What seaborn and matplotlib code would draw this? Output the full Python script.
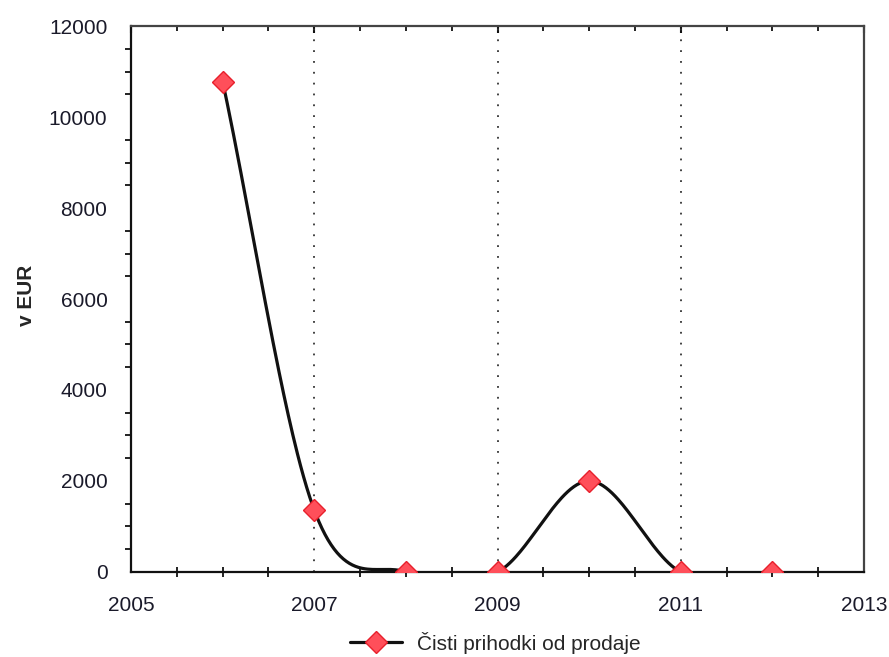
import numpy as np
import pandas as pd
import seaborn as sns
import matplotlib.pyplot as plt
from matplotlib.lines import Line2D
from matplotlib.ticker import MultipleLocator

# data
years = [2006, 2007, 2008, 2009, 2010, 2011, 2012]
prihodki = [10780, 1360, 0, 0, 2000, 0, 0]
series_name = "Čisti prihodki od prodaje"

line_col = "#111111"
mark_face = "#ff4f5a"
mark_edge = "#e8202c"


# Catmull-Rom style smoothing used by the original chart tool
def cardinal_curve(x, y, n=60):
    x = np.asarray(x, float)
    y = np.asarray(y, float)
    m = np.zeros_like(y)
    m[1:-1] = (y[2:] - y[:-2]) / (x[2:] - x[:-2])
    m[0] = (y[1] - y[0]) / (x[1] - x[0])
    m[-1] = (y[-1] - y[-2]) / (x[-1] - x[-2])
    xs, ys = [], []
    for i in range(len(x) - 1):
        h = x[i + 1] - x[i]
        t = np.linspace(0, 1, n, endpoint=(i == len(x) - 2))
        h00 = 2 * t**3 - 3 * t**2 + 1
        h10 = t**3 - 2 * t**2 + t
        h01 = -2 * t**3 + 3 * t**2
        h11 = t**3 - t**2
        xs.append(x[i] + t * h)
        ys.append(h00 * y[i] + h10 * h * m[i] + h01 * y[i + 1] + h11 * h * m[i + 1])
    return np.concatenate(xs), np.concatenate(ys)


cx, cy = cardinal_curve(years, prihodki)
curve = pd.DataFrame({"leto": cx, "vrednost": cy})
points = pd.DataFrame({"leto": years, "vrednost": prihodki})

sns.set_theme(style="white")
plt.rcParams["font.family"] = ["Liberation Sans", "DejaVu Sans"]

fig = plt.figure(figsize=(8.89, 6.57), dpi=100)
ax = fig.add_axes([0.1474, 0.1294, 0.8245, 0.831])

sns.lineplot(data=curve, x="leto", y="vrednost", ax=ax, color=line_col,
             linewidth=2.3, sort=False, legend=False)
ax.plot(points["leto"], points["vrednost"], linestyle="none", marker="D",
        markersize=11, markerfacecolor=mark_face, markeredgecolor=mark_edge,
        markeredgewidth=1, zorder=5)

ax.set_xlim(2005, 2013)
ax.set_ylim(0, 12000)
ax.xaxis.set_major_locator(MultipleLocator(2, offset=1))
ax.xaxis.set_minor_locator(MultipleLocator(0.5))
ax.yaxis.set_major_locator(MultipleLocator(2000))
ax.yaxis.set_minor_locator(MultipleLocator(500))

ax.xaxis.grid(True, which="major", linestyle=(0, (1, 5)), color="#333333", linewidth=1.3)
ax.yaxis.grid(False)

ax.tick_params(axis="x", which="major", direction="inout", length=10, width=1.5,
               color="#111111", labelsize=15, labelcolor="#1a1a2a", pad=12)
ax.tick_params(axis="x", which="minor", direction="inout", length=7, width=1.3,
               color="#111111", bottom=True)
ax.tick_params(axis="y", which="major", direction="out", length=8, width=1.5,
               color="#111111", labelsize=15, labelcolor="#1a1a2a", pad=9)
ax.tick_params(axis="y", which="minor", direction="out", length=4, width=1.3,
               color="#111111", left=True)

top = ax.secondary_xaxis("top")
top.xaxis.set_major_locator(MultipleLocator(2, offset=1))
top.xaxis.set_minor_locator(MultipleLocator(0.5))
top.tick_params(which="major", direction="in", length=5, width=1.5, color="#111111",
                labeltop=False)
top.tick_params(which="minor", direction="in", length=3.5, width=1.3, color="#111111")
top.spines["top"].set_visible(False)

for side in ["left", "bottom"]:
    ax.spines[side].set_color("#111111")
    ax.spines[side].set_linewidth(1.6)
for side in ["top", "right"]:
    ax.spines[side].set_color("#444444")
    ax.spines[side].set_linewidth(1.6)

ax.set_xlabel("")
ax.set_ylabel("v EUR", fontsize=15, fontweight="bold")
ax.yaxis.set_label_coords(-0.129, 0.507)

handle = Line2D([0], [0], color=line_col, linewidth=2.3, marker="D", markersize=11,
                markerfacecolor=mark_face, markeredgecolor=mark_edge)
fig.legend([handle], [series_name], loc="center", bbox_to_anchor=(0.557, 0.022),
           frameon=False, fontsize=15, handlelength=2.5, handletextpad=0.75)

fig.savefig("out.png", dpi=100)
